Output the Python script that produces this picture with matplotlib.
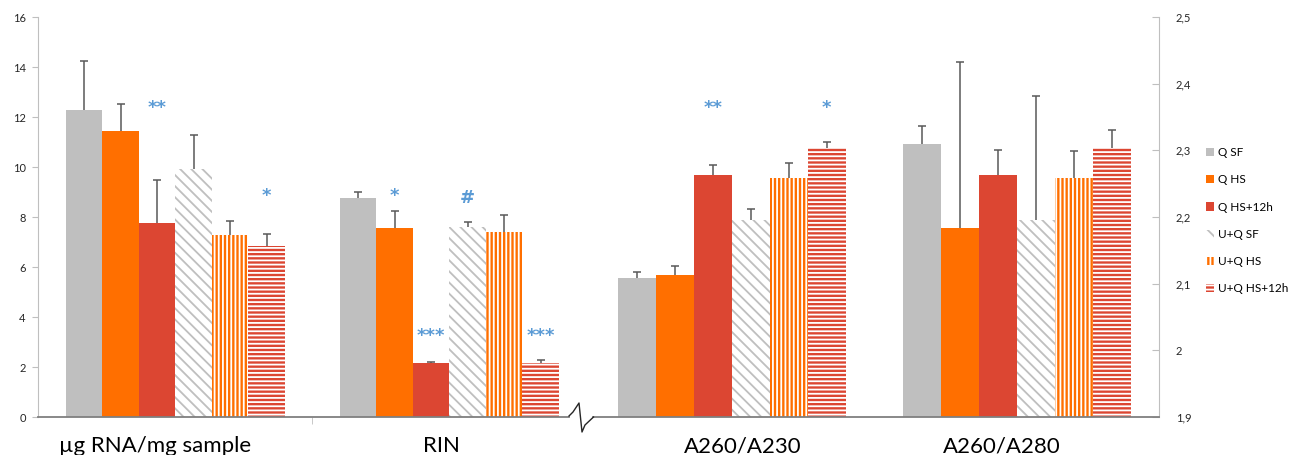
import numpy as np
import matplotlib
matplotlib.use("Agg")
import matplotlib.pyplot as plt
from matplotlib.patches import Patch
from matplotlib.lines import Line2D

plt.rcParams['font.family'] = ['Lato', 'DejaVu Sans']
plt.rcParams['hatch.linewidth'] = 1.3

# ---- data ----
cats_left = ['µg RNA/mg sample', 'RIN']
cats_right = ['A260/A230', 'A260/A280']
series = ['Q SF', 'Q HS', 'Q HS+12h', 'U+Q SF', 'U+Q HS', 'U+Q HS+12h']

# left axis (µg RNA/mg sample, RIN)
q_sf_l = [12.28, 8.78]
q_hs_l = [11.43, 7.56]
q_hs12_l = [7.77, 2.17]
uq_sf_l = [9.92, 7.59]
uq_hs_l = [7.27, 7.41]
uq_hs12_l = [6.84, 2.16]
err_q_sf_l = [1.95, 0.21]
err_q_hs_l = [1.10, 0.67]
err_q_hs12_l = [1.70, 0.04]
err_uq_sf_l = [1.36, 0.22]
err_uq_hs_l = [0.57, 0.67]
err_uq_hs12_l = [0.48, 0.11]

# right axis (A260/A230, A260/A280)
q_sf_r = [2.108, 2.309]
q_hs_r = [2.113, 2.183]
q_hs12_r = [2.263, 2.263]
uq_sf_r = [2.196, 2.196]
uq_hs_r = [2.259, 2.259]
uq_hs12_r = [2.304, 2.304]
err_q_sf_r = [0.009, 0.028]
err_q_hs_r = [0.014, 0.250]
err_q_hs12_r = [0.015, 0.038]
err_uq_sf_r = [0.016, 0.186]
err_uq_hs_r = [0.022, 0.040]
err_uq_hs12_r = [0.009, 0.027]

# significance marks: (category, series index, text, y)
sig_left = [(0, 2, '**', 12.35), (0, 5, '*', 8.85), (1, 1, '*', 8.85),
            (1, 2, '***', 3.25), (1, 3, '#', 8.75), (1, 5, '***', 3.25)]
sig_right = [(0, 2, '**', 2.364), (0, 5, '*', 2.364)]

left_vals = [q_sf_l, q_hs_l, q_hs12_l, uq_sf_l, uq_hs_l, uq_hs12_l]
left_errs = [err_q_sf_l, err_q_hs_l, err_q_hs12_l, err_uq_sf_l, err_uq_hs_l, err_uq_hs12_l]
right_vals = [q_sf_r, q_hs_r, q_hs12_r, uq_sf_r, uq_hs_r, uq_hs12_r]
right_errs = [err_q_sf_r, err_q_hs_r, err_q_hs12_r, err_uq_sf_r, err_uq_hs_r, err_uq_hs12_r]

# ---- styles ----
GRAY = '#BFBFBF'
ORANGE = '#FF6F00'
RED = '#DC4632'
styles = [
    dict(facecolor=GRAY, edgecolor=GRAY, hatch=None),
    dict(facecolor=ORANGE, edgecolor=ORANGE, hatch=None),
    dict(facecolor=RED, edgecolor=RED, hatch=None),
    dict(facecolor='white', edgecolor=GRAY, hatch='\\\\\\'),
    dict(facecolor=ORANGE, edgecolor='white', hatch='||||'),
    dict(facecolor=RED, edgecolor='white', hatch='----'),
]
SIG = '#5B9BD5'
ERR = '#595959'

W, H = 1295, 455
fig = plt.figure(figsize=(W / 100, H / 100), dpi=100)
ax1 = fig.add_axes([38.3 / W, (H - 417) / H, 548 / W, 400 / H])
ax2 = fig.add_axes([589.3 / W, (H - 417) / H, 570 / W, 400 / H])
ax2.patch.set_alpha(0)

bw = 0.8 / 6


def draw(ax, vals, errs, sigs):
    ncat = len(vals[0])
    for i, (v, e) in enumerate(zip(vals, errs)):
        x = np.arange(ncat) + 0.1 + (i + 0.5) * bw
        st = styles[i]
        ax.bar(x, v, width=bw, facecolor=st['facecolor'], edgecolor=st['edgecolor'],
               hatch=st['hatch'], linewidth=0, zorder=2)
        eb = ax.errorbar(x, v, yerr=[np.zeros(ncat), e], fmt='none', ecolor=ERR,
                         elinewidth=1.1, capsize=3, capthick=1.1, zorder=3)
        # only the upper cap is shown
        eb[1][0].set_visible(False)
    for c, i, t, y in sigs:
        x = c + 0.1 + (i + 0.5) * bw
        ax.text(x, y, t, color=SIG, fontsize=13, ha='center', va='center',
                fontweight='bold', family='DejaVu Sans')
    ax.set_xlim(0, ncat)
    ax.spines['top'].set_visible(False)


draw(ax1, left_vals, left_errs, sig_left)
draw(ax2, right_vals, right_errs, sig_right)

# left axis
ax1.set_ylim(0, 16)
ax1.set_yticks(np.arange(0, 17, 2))
ax1.spines['right'].set_visible(False)
ax1.spines['left'].set_color(GRAY)
ax1.spines['bottom'].set_color('#7F7F7F')
ax1.spines['bottom'].set_linewidth(1.3)
ax1.spines['bottom'].set_bounds(0, (569 - 38.3) / 274)
ax1.tick_params(axis='y', direction='out', length=4, color=GRAY, labelsize=8,
                labelcolor='#262626', pad=5)
# category labels sit slightly off the group centres, as in the original
ax1.set_xticks([0.426, 1.47], cats_left)
ax1.set_xticks([1.0], minor=True)
ax1.tick_params(axis='x', which='major', length=0, labelsize=16, pad=14, labelcolor='black')
ax1.tick_params(axis='x', which='minor', length=5, color=GRAY)

# right axis
ax2.set_ylim(1.9, 2.5)
rticks = [1.9, 2.0, 2.1, 2.2, 2.3, 2.4, 2.5]
ax2.set_yticks(rticks, ['1,9', '2', '2,1', '2,2', '2,3', '2,4', '2,5'])
ax2.yaxis.tick_right()
ax2.spines['left'].set_visible(False)
ax2.spines['right'].set_color(GRAY)
ax2.spines['bottom'].set_color('#7F7F7F')
ax2.spines['bottom'].set_linewidth(1.3)
ax2.spines['bottom'].set_bounds(4 / 285, 2)
ax2.tick_params(axis='y', direction='in', length=5, color=GRAY, labelsize=8,
                labelcolor='#262626', pad=12)
ax2.set_xticks([0.539, 1.448], cats_right)
ax2.tick_params(axis='x', length=0, labelsize=16, pad=14, labelcolor='black')

# axis break mark
bx = [569, 573, 579, 582, 585, 593.5]
by = [416, 412, 403, 432, 425, 417]
fig.add_artist(Line2D([x / W for x in bx], [1 - y / H for y in by],
                      color='#262626', lw=1.0, transform=fig.transFigure))

# legend
handles = [Patch(facecolor=s['facecolor'], edgecolor=s['edgecolor'], hatch=s['hatch'],
                 linewidth=0) for s in styles]
fig.legend(handles, series, loc='upper left', bbox_to_anchor=(1206 / W, 1 - 147 / H),
           frameon=False, fontsize=8.5, handlelength=0.7, handleheight=0.7,
           handletextpad=0.3, labelspacing=1.38, borderpad=0, borderaxespad=0)

fig.savefig('out.png', dpi=100)
